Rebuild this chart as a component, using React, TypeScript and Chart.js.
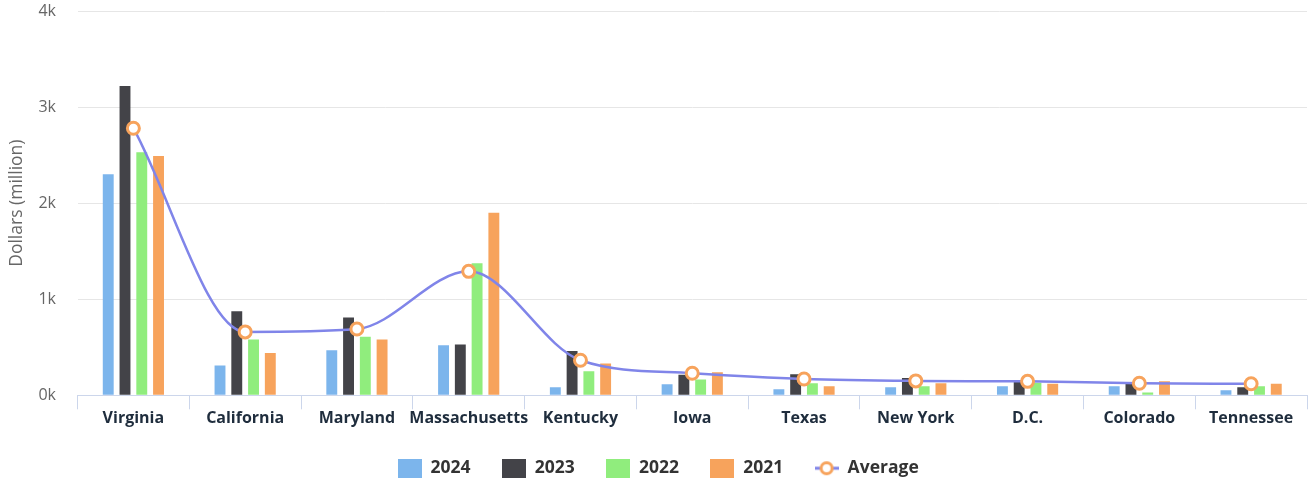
import React, { useEffect, useRef } from "react";
import { Chart, registerables } from "chart.js";

Chart.register(...registerables);

const categories = ["Virginia", "California", "Maryland", "Massachusetts", "Kentucky", "Iowa", "Texas", "New York", "D.C.", "Colorado", "Tennessee"];
const v2024 = [2300, 310, 470, 520, 83, 115, 63, 83, 94, 94, 52];
const v2023 = [3220, 875, 810, 530, 460, 215, 220, 180, 150, 120, 83];
const v2022 = [2530, 580, 610, 1375, 250, 165, 125, 95, 130, 30, 94];
const v2021 = [2490, 440, 580, 1900, 330, 240, 94, 125, 120, 146, 120];
const average = [2780, 660, 690, 1290, 365, 230, 170, 150, 145, 125, 120];
const yTicks = [0, 1000, 2000, 3000, 4000];

const COLORS = ["#7cb5ec", "#434348", "#90ed7d", "#f7a35c"];
const LINE = "#8085e9";
const FONT = "'Open Sans', 'Noto Sans', sans-serif";
const W = 1316;
const H = 487;

function boxImg(color: string) {
  const c = document.createElement("canvas");
  c.width = 24;
  c.height = 19;
  const ctx = c.getContext("2d")!;
  ctx.fillStyle = color;
  ctx.fillRect(0, 0, 24, 19);
  return c;
}
function lineImg() {
  const c = document.createElement("canvas");
  c.width = 24;
  c.height = 18;
  const ctx = c.getContext("2d")!;
  ctx.strokeStyle = LINE;
  ctx.lineWidth = 3;
  ctx.beginPath();
  ctx.moveTo(0, 9);
  ctx.lineTo(24, 9);
  ctx.stroke();
  ctx.beginPath();
  ctx.arc(12, 9, 5.5, 0, Math.PI * 2);
  ctx.fillStyle = "#fff";
  ctx.fill();
  ctx.lineWidth = 3;
  ctx.strokeStyle = "#f7a35c";
  ctx.stroke();
  return c;
}

export default function App() {
  const ref = useRef<HTMLCanvasElement>(null);
  useEffect(() => {
    if (!ref.current) return;
    const series = [
      { label: "2024", data: v2024 },
      { label: "2023", data: v2023 },
      { label: "2022", data: v2022 },
      { label: "2021", data: v2021 },
    ];
    const images = [...COLORS.map(boxImg), lineImg()];
    const chart = new Chart(ref.current, {
      type: "bar",
      data: {
        labels: categories,
        datasets: [
          ...series.map((s, i) => ({
            type: "bar" as const,
            label: s.label,
            data: s.data,
            backgroundColor: COLORS[i],
            borderWidth: 0,
            categoryPercentage: 0.6,
            barPercentage: 0.65,
            order: 1,
          })),
          {
            type: "line" as const,
            label: "Average",
            data: average,
            borderColor: LINE,
            borderWidth: 2.5,
            cubicInterpolationMode: "monotone" as const,
            pointRadius: 6,
            pointBorderWidth: 3,
            pointBackgroundColor: "#ffffff",
            pointBorderColor: "#f7a35c",
            order: 0,
          } as any,
        ],
      },
      options: {
        animation: false,
        responsive: false,
        maintainAspectRatio: false,
        layout: { padding: { top: 11, right: 0, bottom: 0, left: 0 } },
        plugins: {
          tooltip: { enabled: false },
          legend: {
            position: "bottom",
            labels: {
              usePointStyle: true,
              pointStyleWidth: 24.5,
              boxHeight: 19,
              padding: 31,
              color: "#333333",
              font: { family: FONT, size: 17.5, weight: "bold" },
              sort: (a: any, b: any) => a.datasetIndex - b.datasetIndex,
              generateLabels: (chart: any) => {
                const items = Chart.defaults.plugins.legend.labels.generateLabels(chart);
                items.forEach((it: any) => {
                  it.pointStyle = images[it.datasetIndex];
                });
                return items;
              },
            },
          },
        },
        scales: {
          x: {
            grid: {
              display: true,
              drawOnChartArea: false,
              drawTicks: true,
              tickLength: 14,
              color: "#ccd6eb",
              offset: true,
            },
            border: { display: true, color: "#ccd6eb", width: 1 },
            ticks: {
              color: "#1f2d3d",
              font: { family: FONT, size: 16, weight: "bold" },
              padding: 0,
              maxRotation: 0,
              autoSkip: false,
            },
          },
          y: {
            min: 0,
            max: 4000,
            afterBuildTicks: (scale: any) => {
              scale.ticks = yTicks.map((v) => ({ value: v }));
            },
            afterFit: (scale: any) => {
              scale.width = 77.5;
            },
            grid: { color: "#e6e6e6", drawTicks: true, tickLength: 21.5, tickColor: "rgba(0,0,0,0)" },
            border: { display: false },
            ticks: {
              color: "#666666",
              font: { family: FONT, size: 16 },
              padding: 0,
              callback: (v: any) => `${Number(v) / 1000}k`,
            },
            title: {
              display: true,
              text: "Dollars (million)",
              color: "#666666",
              font: { family: FONT, size: 17.5 },
              padding: { top: 7, bottom: 4 },
            },
          },
        },
      },
    });
    return () => chart.destroy();
  }, []);
  return (
    <div style={{ position: "fixed", left: 0, top: 0, width: W, height: 482, overflow: "hidden" }}>
      <canvas ref={ref} width={W} height={H} style={{ width: W, height: H, display: "block" }} />
    </div>
  );
}
